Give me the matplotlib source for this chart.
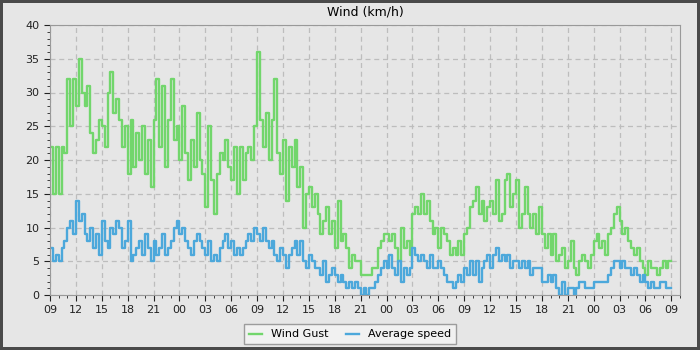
import numpy as np
import matplotlib.pyplot as plt
from matplotlib.ticker import MultipleLocator

# 20-minute samples, starting 09:00, three per hour
gust = [22, 15, 22,  15, 22, 21,  32, 25, 32,  28, 35, 30,  28, 31, 24,
        21, 23, 26,  25, 22, 30,  33, 27, 29,  26, 22, 25,  18, 26, 19,
        24, 20, 25,  18, 23, 16,  26, 32, 22,  31, 19, 26,  32, 23, 25,
        20, 28, 21,  17, 23, 19,  27, 20, 18,  13, 25, 17,  12, 18, 21,
        20, 23, 19,  17, 22, 15,  22, 17, 21,  22, 20, 25,  36, 26, 22,
        27, 20, 26,  32, 21, 18,  23, 14, 22,  19, 23, 16,  19, 10, 15,
        16, 13, 15,  12, 9, 11,   13, 9, 11,   7, 14, 8,    9, 7, 4,
        6, 5, 5,     3, 3, 3,     3, 4, 4,     7, 8, 9,     9, 8, 9,
        7, 5, 10,    7, 8, 6,     12, 13, 12,  15, 12, 14,  11, 9, 10,
        7, 10, 9,    8, 6, 7,     6, 8, 6,     9, 10, 13,   14, 16, 12,
        14, 11, 13,  14, 12, 17,  11, 12, 17,  18, 13, 15,  17, 10, 12,
        16, 12, 10,  12, 9, 13,   9, 7, 9,     6, 9, 5,     6, 7, 4,
        5, 8, 4,     3, 5, 6,     5, 4, 6,     8, 9, 7,     8, 6, 9,
        10, 12, 13,  11, 9, 10,   8, 7, 6,     7, 5, 4,     3, 5, 4,
        4, 3, 4,     5, 4, 5,     5]

avg = [7, 5, 6,   5, 7, 8,    10, 11, 9,  14, 11, 12,  9, 8, 10,
       7, 9, 6,   11, 8, 7,   10, 9, 11,  10, 7, 8,    11, 5, 6,
       7, 8, 6,   9, 7, 5,    8, 6, 7,    9, 6, 7,     8, 10, 11,
       9, 10, 8,  7, 6, 8,    9, 8, 7,    6, 8, 5,     6, 5, 7,
       8, 9, 7,   8, 6, 7,    6, 7, 8,    9, 8, 10,    9, 8, 10,
       8, 7, 8,   6, 5, 7,    6, 4, 6,    7, 8, 6,     8, 5, 4,
       6, 5, 4,   4, 3, 5,    2, 3, 4,    3, 2, 3,     2, 1, 2,
       1, 2, 1,   0, 1, 0,    1, 1, 2,    3, 4, 5,     4, 6, 4,
       3, 5, 2,   4, 3, 4,    7, 6, 5,    6, 5, 4,     6, 4, 4,
       5, 4, 3,   2, 2, 1,    2, 3, 2,    4, 3, 5,     3, 5, 2,
       4, 5, 6,   4, 6, 7,    5, 6, 5,    6, 4, 5,     5, 4, 5,
       4, 5, 3,   4, 4, 4,    2, 2, 3,    2, 3, 1,     0, 2, 0,
       1, 1, 0,   1, 2, 2,    1, 1, 1,    2, 2, 2,     2, 2, 3,
       4, 5, 5,   4, 5, 4,    4, 3, 4,    3, 2, 3,     2, 1, 2,
       1, 1, 2,   2, 1, 1,    1]

hour_labels = ['09', '12', '15', '18', '21', '00', '03', '06', '09',
               '12', '15', '18', '21', '00', '03', '06', '09',
               '12', '15', '18', '21', '00', '03', '06', '09']

hours = np.arange(len(gust)) / 3.0

fig = plt.figure(figsize=(7, 3.5), dpi=100, facecolor='#e6e6e6',
                 edgecolor='#4a4a4a', linewidth=3)
ax = fig.add_axes([50/700, 55/350, 630/700, 270/350])
ax.set_facecolor('#e6e6e6')

ax.step(hours, gust, where='post', color='#72d66c', lw=1.7, label='Wind Gust')
ax.step(hours, avg, where='post', color='#4ca8db', lw=1.7, label='Average speed')

ax.set_xlim(0, 73)
ax.set_ylim(0, 40)
ax.set_xticks(np.arange(len(hour_labels)) * 3)
ax.set_xticklabels(hour_labels)
ax.xaxis.set_minor_locator(MultipleLocator(1))
ax.yaxis.set_major_locator(MultipleLocator(5))
ax.yaxis.set_minor_locator(MultipleLocator(1))
ax.tick_params(which='major', length=4, labelsize=8, colors='#222222')
ax.tick_params(which='minor', length=2, color='#222222')
ax.grid(True, which='major', color='#bdbdbd', linestyle=(0, (4, 3)), lw=0.9)
for s in ax.spines.values():
    s.set_color('#999999')

ax.set_title('Wind (km/h)', fontsize=9, pad=7)

fig.legend(loc='lower center', bbox_to_anchor=(0.5, 0.0), ncol=2,
           fontsize=8, frameon=True, fancybox=False, facecolor='#f4f4f4',
           edgecolor='#888888', handlelength=1.2, columnspacing=1.6,
           borderpad=0.45)

fig.savefig('out.png', dpi=100, facecolor=fig.get_facecolor(),
            edgecolor=fig.get_edgecolor())
